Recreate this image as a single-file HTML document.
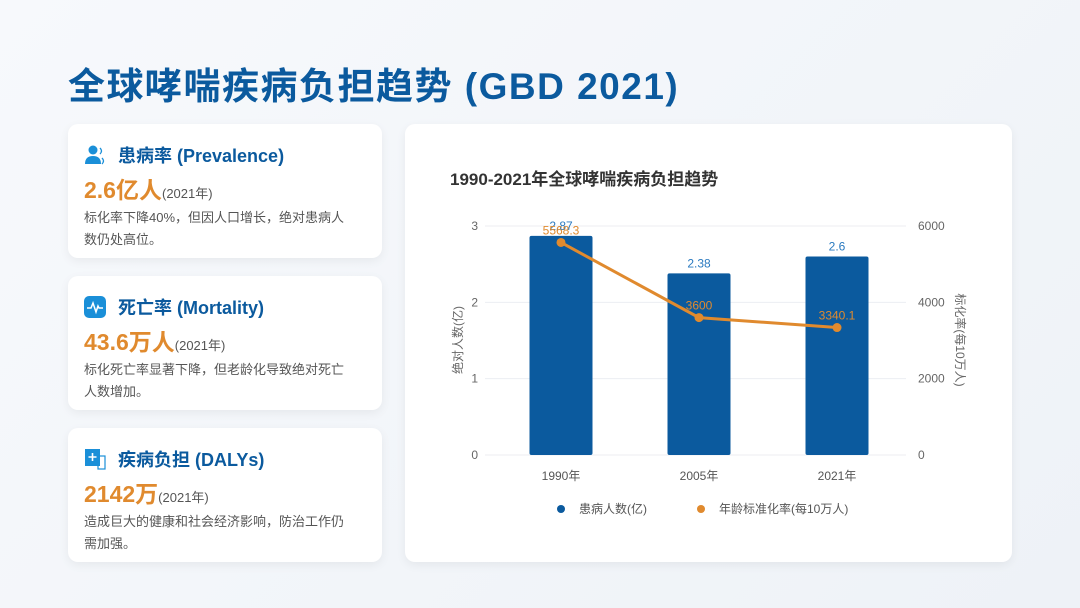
<!DOCTYPE html>
<html><head><meta charset="utf-8">
<style>
*{margin:0;padding:0;box-sizing:border-box}
body{width:1080px;height:608px;background:linear-gradient(135deg,#f7f9fc,#eef2f7);font-family:"Liberation Sans","Noto Sans CJK SC",sans-serif;position:relative;overflow:hidden}
h1{position:absolute;left:68px;top:56px;font-size:37px;font-weight:bold;color:#0b5a9e;letter-spacing:1.5px}
.card{position:absolute;left:68px;width:314px;height:134px;background:#fff;border-radius:10px;box-shadow:0 3px 10px rgba(0,0,0,0.06);padding:18px 16px}
.ct{display:flex;align-items:center;font-size:18px;font-weight:bold;color:#0b5a9e;height:26px}
.ic{width:22px;height:22px;margin-right:12px;margin-left:0}
.big{font-size:23px;font-weight:bold;color:#e08a2e;margin-top:3px}
.big small{font-size:13px;color:#555;font-weight:normal}
.desc{font-size:13px;color:#555;line-height:22px;margin-top:2px;width:265px}
.chart{position:absolute;left:405px;top:124px;width:607px;height:438px;background:#fff;border-radius:10px;box-shadow:0 3px 10px rgba(0,0,0,0.06)}
</style></head><body>
<h1>全球哮喘疾病负担趋势 (GBD 2021)</h1>

<div class="card" style="top:124px">
<div class="ct"><svg class="ic" viewBox="0 0 22 22"><circle cx="9" cy="6" r="4.5" fill="#1a8fd8"/><path d="M1 20 Q1 12 9 12 Q17 12 17 20Z" fill="#1a8fd8"/><path d="M16 4 Q19 7 16 10 M18 14 Q21 17 18 20" stroke="#1a8fd8" fill="none" stroke-width="1.3"/></svg>患病率 (Prevalence)</div>
<div class="big">2.6亿人<small>(2021年)</small></div>
<div class="desc">标化率下降40%，但因人口增长，绝对患病人数仍处高位。</div>
</div>
<div class="card" style="top:276px">
<div class="ct"><svg class="ic" viewBox="0 0 22 22"><rect width="22" height="22" rx="5" fill="#1a8fd8"/><path d="M3 12 H7 L9 7 L12 16 L14 10 L15 12 H19" stroke="#fff" fill="none" stroke-width="1.5"/></svg>死亡率 (Mortality)</div>
<div class="big">43.6万人<small>(2021年)</small></div>
<div class="desc">标化死亡率显著下降，但老龄化导致绝对死亡人数增加。</div>
</div>
<div class="card" style="top:428px">
<div class="ct"><svg class="ic" viewBox="0 0 22 22"><rect x="1" y="1" width="15" height="17" fill="#1a8fd8"/><path d="M8.5 5 V13 M4.5 9 H12.5" stroke="#fff" stroke-width="1.6"/><rect x="14" y="8" width="7" height="13" fill="none" stroke="#1a8fd8" stroke-width="1.2"/></svg>疾病负担 (DALYs)</div>
<div class="big">2142万<small>(2021年)</small></div>
<div class="desc">造成巨大的健康和社会经济影响，防治工作仍需加强。</div>
</div>

<div class="chart">
<svg id="svg" width="607" height="438" style="position:absolute;left:0;top:0" font-family="Liberation Sans, Noto Sans CJK SC, sans-serif"></svg>
</div>
<script>
const categories=["1990年","2005年","2021年"];
const patients=[2.87,2.38,2.6];
const rates=[5568.3,3600,3340.1];
const leftTicks=[0,1,2,3];
const rightTicks=[0,2000,4000,6000];
const ox=405,oy=124;
const svg=document.getElementById('svg');
const NS='http://www.w3.org/2000/svg';
function mk(t,a,txt){const e=document.createElementNS(NS,t);for(const k in a)e.setAttribute(k,a[k]);if(txt!==undefined)e.textContent=txt;svg.appendChild(e);return e;}
const x0=492-ox,x1=906-ox,yTop=226-oy,yBot=455-oy;
const yL=v=>yBot-(v/3)*(yBot-yTop);
const yR=v=>yBot-(v/6000)*(yBot-yTop);
const xC=i=>x0+(i+0.5)*(x1-x0)/categories.length;
let e=mk('text',{x:450-ox,y:185-oy,'font-size':17,'font-weight':'bold',fill:'#333'},'1990-2021年全球哮喘疾病负担趋势');


leftTicks.forEach(v=>{
 e=mk('line',{x1:485-ox,x2:x1,y1:yL(v),y2:yL(v),stroke:'#eceef2'});
 
 
 e=mk('text',{x:478-ox,y:yL(v)+4,'font-size':12,fill:'#666','text-anchor':'end'},v);
 
 
});
rightTicks.forEach(v=>{
 e=mk('text',{x:918-ox,y:yR(v)+4,'font-size':12,fill:'#666'},v);
 
 
});
e=mk('text',{transform:`translate(${462-ox},${340-oy}) rotate(-90)`,'font-size':12,fill:'#666','text-anchor':'middle'},'绝对人数(亿)');


e=mk('text',{transform:`translate(${956-ox},${340-oy}) rotate(90)`,'font-size':12,fill:'#666','text-anchor':'middle'},'标化率(每10万人)');


categories.forEach((c,i)=>{
 const bw=63;
 e=mk('rect',{x:xC(i)-bw/2,y:yL(patients[i]),width:bw,height:yBot-yL(patients[i]),fill:'#0b5a9e',rx:2});
 
 
 e=mk('text',{x:xC(i),y:yL(patients[i])-6,'font-size':12,fill:'#2a7ac0','text-anchor':'middle'},patients[i]);
 
 
 e=mk('text',{x:xC(i),y:yBot+25,'font-size':12,fill:'#555','text-anchor':'middle'},c);
 
 
});
e=mk('polyline',{points:rates.map((r,i)=>xC(i)+','+yR(r)).join(' '),fill:'none',stroke:'#e08a2e','stroke-width':3});


rates.forEach((r,i)=>{
 e=mk('circle',{cx:xC(i),cy:yR(r),r:4.5,fill:'#e08a2e'});
 
 
 e=mk('text',{x:xC(i),y:yR(r)-8,'font-size':12,fill:'#e08a2e','text-anchor':'middle'},r);
 
 
});
e=mk('circle',{cx:561-ox,cy:509-oy,r:4,fill:'#0b5a9e'});


e=mk('text',{x:579-ox,y:513-oy,'font-size':12,fill:'#555'},'患病人数(亿)');


e=mk('circle',{cx:701-ox,cy:509-oy,r:4,fill:'#e08a2e'});


e=mk('text',{x:719-ox,y:513-oy,'font-size':12,fill:'#555'},'年龄标准化率(每10万人)');


</script>
</body></html>
